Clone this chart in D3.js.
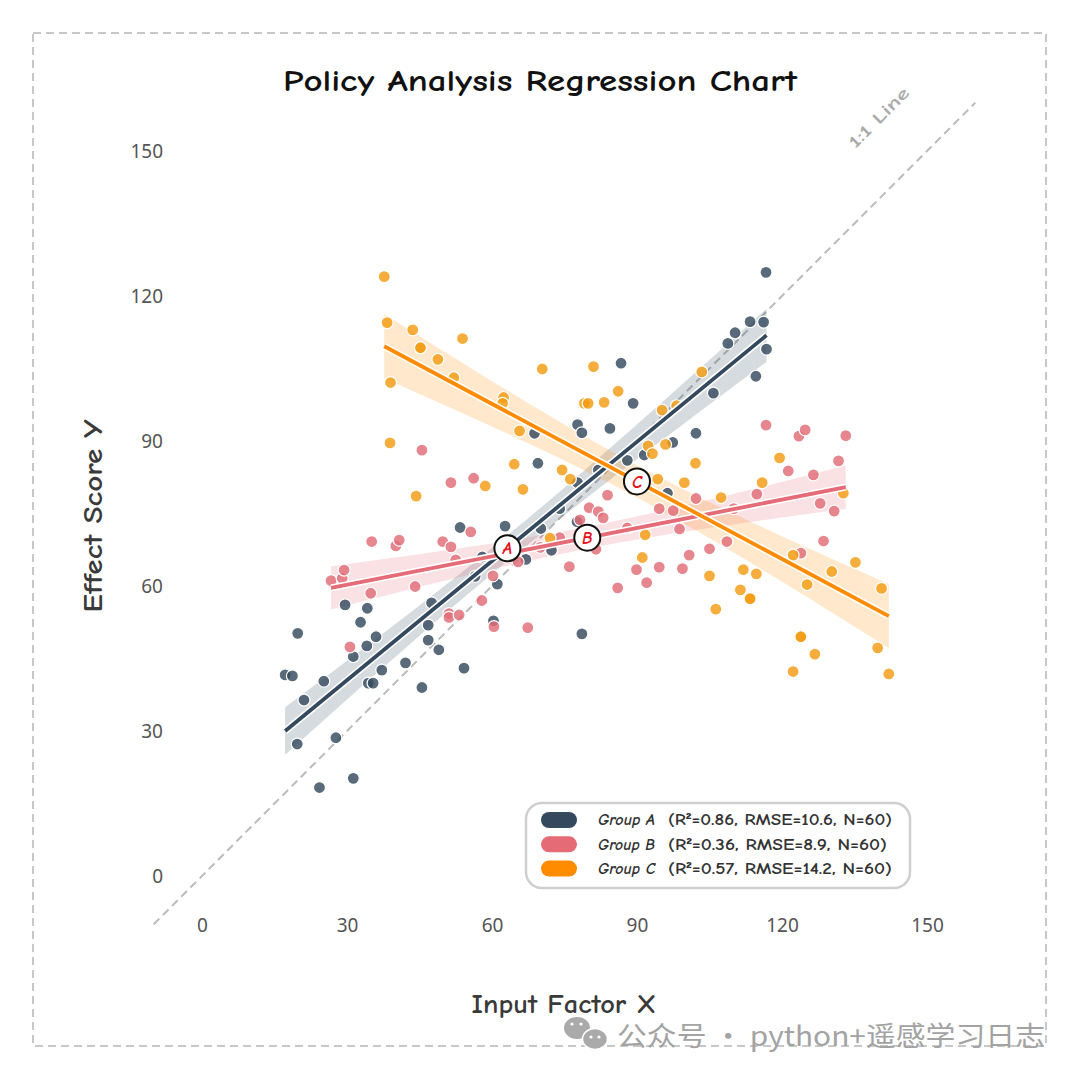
<!DOCTYPE html>
<html>
<head>
<meta charset="utf-8">
<script src="https://cdn.jsdelivr.net/npm/d3@7"></script>
<style>
body { margin: 0; background: #fff; }
svg { display: block; }
</style>
</head>
<body>
<div id="chart"></div>
<script>
// ---- data ----
var groupNames = ["Group A", "Group B", "Group C"];
var groupStats = ["(R\u00b2=0.86, RMSE=10.6, N=60)", "(R\u00b2=0.36, RMSE=8.9, N=60)", "(R\u00b2=0.57, RMSE=14.2, N=60)"];
var statWidths = [224, 219, 224];
var groupLetters = ["A", "B", "C"];
var groupColors = ["#34495e", "#e56b76", "#ff8c00"];
var dotColors = ["#34495e", "#e06c78", "#f39c12"];
var xTicks = [0, 30, 60, 90, 120, 150];
var yTicks = [0, 30, 60, 90, 120, 150];
var identityRange = [-10, 160];

var groupA = [
    [17.2, 41.6], [18.7, 41.4], [19.8, 50.2], [19.7, 27.3], [21.1, 36.4], [24.3, 18.3],
    [25.2, 40.3], [27.7, 28.6], [29.6, 56.1], [31.3, 20.2], [31.3, 45.4], [32.8, 52.5],
    [34.2, 55.4], [34.1, 47.6], [34.4, 39.9], [35.4, 39.9], [36.0, 49.5], [37.2, 42.6],
    [42.1, 44.1], [45.5, 39.0], [46.8, 48.8], [46.8, 51.9], [47.5, 56.5], [49.0, 46.8],
    [53.4, 72.1], [54.2, 43.0], [60.3, 52.8], [61.1, 60.4], [62.7, 72.4], [67.0, 65.5],
    [70.1, 71.9], [72.3, 67.4], [78.6, 50.1], [68.8, 91.6], [69.5, 85.4], [77.7, 93.4],
    [78.6, 91.7], [77.7, 81.4], [84.4, 92.6], [86.7, 106.1], [89.2, 97.8], [91.5, 87.1],
    [96.3, 79.2], [97.4, 89.7], [102.2, 91.6], [105.8, 99.9], [108.8, 110.2], [110.3, 112.4],
    [113.4, 114.7], [114.6, 103.4], [116.2, 114.6], [116.7, 124.9], [116.8, 109.0],
    [77.6, 73.3], [56.5, 62.0], [65.0, 68.0], [74.0, 76.0], [82.0, 84.0], [88.0, 86.0], [58.0, 66.0]
];

var groupB = [
    [26.7, 61.1], [29.0, 61.6], [29.4, 63.3], [30.6, 47.4], [34.9, 58.5], [35.1, 69.2],
    [40.1, 68.3], [40.8, 69.5], [44.1, 59.9], [45.5, 88.1], [49.8, 69.2], [51.5, 81.4],
    [51.5, 68.1], [51.1, 54.3], [51.1, 53.5], [53.2, 54.0], [52.5, 65.4], [56.2, 82.3],
    [55.6, 71.2], [57.9, 57.0], [60.2, 62.1], [60.4, 51.6], [65.4, 65.0], [67.4, 51.4],
    [78.2, 73.7], [80.1, 76.2], [82.0, 75.4], [83.0, 74.1], [83.9, 78.8], [81.5, 67.6],
    [86.0, 59.6], [89.9, 63.4], [92.0, 60.7], [94.6, 63.9], [94.6, 76.0], [97.5, 75.6],
    [98.8, 71.8], [99.4, 63.6], [100.8, 66.4], [102.2, 78.1], [105.0, 67.7], [108.6, 69.2],
    [114.8, 79.0], [116.7, 93.3], [121.3, 83.8], [123.5, 91.0], [124.8, 92.3], [123.9, 66.8],
    [126.5, 83.0], [127.9, 77.1], [128.6, 69.3], [130.8, 75.5], [131.7, 85.9], [133.2, 91.1],
    [70.0, 68.0], [74.0, 70.0], [63.0, 66.0], [88.0, 72.0], [110.0, 76.0], [76.0, 64.0]
];

var groupC = [
    [37.7, 124.0], [38.3, 114.5], [39.0, 102.1], [38.9, 89.6], [43.6, 113.0], [45.2, 109.3],
    [44.3, 78.6], [48.8, 106.9], [52.1, 103.1], [53.9, 111.2], [58.6, 80.7], [62.4, 99.0],
    [62.2, 97.8], [64.6, 85.2], [65.7, 92.1], [66.4, 80.0], [70.4, 104.9], [72.0, 69.9],
    [74.5, 84.0], [76.2, 82.1], [79.1, 97.8], [79.9, 97.8], [81.0, 105.4], [83.2, 98.0],
    [86.1, 100.3], [91.1, 65.9], [91.7, 70.6], [92.3, 89.0], [93.2, 87.4], [94.3, 82.1],
    [95.2, 96.4], [95.9, 89.3], [98.2, 97.3], [99.8, 81.4], [102.1, 85.4], [103.4, 104.3],
    [105.0, 62.1], [106.3, 55.2], [107.4, 78.3], [111.4, 59.2], [112.0, 63.4], [113.4, 57.4],
    [114.7, 62.5], [115.9, 81.4], [119.5, 86.5], [122.3, 66.4], [122.3, 42.3], [123.9, 49.5],
    [125.2, 60.3], [126.8, 45.9], [130.3, 63.0], [132.7, 79.2], [135.2, 64.9], [139.8, 47.2],
    [140.6, 59.5], [142.1, 41.8],
    [45.2, 109.3], [89.0, 80.0], [113.4, 57.4], [123.9, 49.5]
];

var groups = [groupA, groupB, groupC];

// ---- layout ----
var width = 1080, height = 1080;
var fontComic = '"Comic Sans MS", "Comic Neue", "DejaVu Sans", sans-serif';
var fontTick = '"Noto Sans", "Open Sans", sans-serif';

var svg = d3.select("#chart").append("svg")
    .attr("width", width)
    .attr("height", height);

var x = d3.scaleLinear().domain([-10, 160]).range([153.7, 975.3]);
var y = d3.scaleLinear().domain([-10, 160]).range([924.3, 102.7]);

// ordinary least squares with a 95% band, as a regplot would draw
function fitLine(pts) {
    var n = pts.length;
    var xbar = d3.mean(pts, function(d) { return d[0]; });
    var ybar = d3.mean(pts, function(d) { return d[1]; });
    var sxx = d3.sum(pts, function(d) { return (d[0] - xbar) * (d[0] - xbar); });
    var sxy = d3.sum(pts, function(d) { return (d[0] - xbar) * (d[1] - ybar); });
    var slope = sxy / sxx;
    var intercept = ybar - slope * xbar;
    var sse = d3.sum(pts, function(d) { var r = d[1] - (intercept + slope * d[0]); return r * r; });
    var s = Math.sqrt(sse / (n - 2));
    var ext = d3.extent(pts, function(d) { return d[0]; });
    return {
        n: n, xbar: xbar, ybar: ybar, sxx: sxx, slope: slope, intercept: intercept, s: s,
        x0: ext[0], x1: ext[1],
        at: function(v) { return intercept + slope * v; },
        half: function(v) { return 2.0 * s * Math.sqrt(1 / n + (v - xbar) * (v - xbar) / sxx); }
    };
}

var fits = groups.map(fitLine);

// outer dashed frame
svg.append("rect")
    .attr("x", 33).attr("y", 33)
    .attr("width", 1013).attr("height", 1013)
    .attr("fill", "none")
    .attr("stroke", "#c8c8c8")
    .attr("stroke-width", 2)
    .attr("stroke-dasharray", "8,5");

// title
svg.append("text")
    .attr("x", 540).attr("y", 91)
    .attr("text-anchor", "middle")
    .attr("font-family", fontComic)
    .attr("font-weight", "bold")
    .attr("font-size", "31px")
    .attr("fill", "#111")
    .attr("textLength", 514)
    .attr("lengthAdjust", "spacingAndGlyphs")
    .text("Policy Analysis Regression Chart");

// axes (no spines, no tick marks)
var xAxis = d3.axisBottom(x).tickValues(xTicks).tickSize(0).tickPadding(0);
var yAxis = d3.axisLeft(y).tickValues(yTicks).tickSize(0).tickPadding(0);

var xAxisGroup = svg.append("g")
    .attr("transform", "translate(0,918)")
    .call(xAxis);
var yAxisGroup = svg.append("g")
    .attr("transform", "translate(163,0)")
    .call(yAxis);

[xAxisGroup, yAxisGroup].forEach(function(g) {
    g.select(".domain").remove();
    g.selectAll("text")
        .attr("font-family", fontTick)
        .attr("font-size", "19px")
        .attr("fill", "#555");
});

svg.append("text")
    .attr("x", 564).attr("y", 1013)
    .attr("text-anchor", "middle")
    .attr("font-family", fontComic)
    .attr("font-weight", "bold")
    .attr("font-size", "26px")
    .attr("fill", "#3a3a3a")
    .attr("textLength", 185)
    .attr("lengthAdjust", "spacingAndGlyphs")
    .text("Input Factor X");

svg.append("text")
    .attr("transform", "translate(102,516) rotate(-90)")
    .attr("text-anchor", "middle")
    .attr("font-family", fontComic)
    .attr("font-weight", "bold")
    .attr("font-size", "26px")
    .attr("fill", "#3a3a3a")
    .attr("textLength", 193)
    .attr("lengthAdjust", "spacingAndGlyphs")
    .text("Effect Score Y");

// 1:1 reference line
svg.append("line")
    .attr("x1", x(identityRange[0])).attr("y1", y(identityRange[0]))
    .attr("x2", x(identityRange[1])).attr("y2", y(identityRange[1]))
    .attr("stroke", "#bbb")
    .attr("stroke-width", 2)
    .attr("stroke-dasharray", "8,5");

svg.append("text")
    .attr("transform", "translate(" + x(140) + "," + y(157) + ") rotate(-45)")
    .attr("text-anchor", "middle")
    .attr("dy", "0.35em")
    .attr("font-family", fontComic)
    .attr("font-weight", "bold")
    .attr("font-size", "17px")
    .attr("fill", "#aaa")
    .attr("textLength", 78)
    .attr("lengthAdjust", "spacingAndGlyphs")
    .text("1:1 Line");

// confidence bands
var band = d3.area()
    .x(function(d) { return x(d.v); })
    .y0(function(d) { return y(d.lo); })
    .y1(function(d) { return y(d.hi); });

var gBands = svg.append("g");
fits.forEach(function(f, i) {
    var samples = d3.range(0, 41).map(function(k) {
        var v = f.x0 + (f.x1 - f.x0) * k / 40;
        return { v: v, lo: f.at(v) - f.half(v), hi: f.at(v) + f.half(v) };
    });
    gBands.append("path")
        .attr("d", band(samples))
        .attr("fill", groupColors[i])
        .attr("fill-opacity", 0.2);
});

// scatter points
var gDots = svg.append("g");
groups.forEach(function(pts, i) {
    gDots.selectAll(".dot" + i)
        .data(pts)
        .enter().append("circle")
        .attr("class", "dot" + i)
        .attr("cx", function(d) { return x(d[0]); })
        .attr("cy", function(d) { return y(d[1]); })
        .attr("r", 6)
        .attr("fill", dotColors[i])
        .attr("fill-opacity", 0.82)
        .attr("stroke", "#fff")
        .attr("stroke-width", 1.2);
});

// fitted lines with a white halo
var gLines = svg.append("g");
fits.forEach(function(f, i) {
    gLines.append("line")
        .attr("x1", x(f.x0)).attr("y1", y(f.at(f.x0)))
        .attr("x2", x(f.x1)).attr("y2", y(f.at(f.x1)))
        .attr("stroke", "#fff")
        .attr("stroke-width", 7);
    gLines.append("line")
        .attr("x1", x(f.x0)).attr("y1", y(f.at(f.x0)))
        .attr("x2", x(f.x1)).attr("y2", y(f.at(f.x1)))
        .attr("stroke", groupColors[i])
        .attr("stroke-width", 3.8);
});

// letter markers at each group centroid
var gMarks = svg.append("g");
fits.forEach(function(f, i) {
    var cx = x(f.xbar), cy = y(f.ybar);
    gMarks.append("circle")
        .attr("cx", cx).attr("cy", cy)
        .attr("r", 13)
        .attr("fill", "#fff")
        .attr("stroke", "#111")
        .attr("stroke-width", 2);
    gMarks.append("text")
        .attr("x", cx).attr("y", cy)
        .attr("dy", "0.36em")
        .attr("text-anchor", "middle")
        .attr("font-family", fontComic)
        .attr("font-weight", "bold")
        .attr("font-style", "italic")
        .attr("font-size", "17px")
        .attr("fill", "#e8101a")
        .text(groupLetters[i]);
});

// legend
var legend = svg.append("g");
legend.append("rect")
    .attr("x", 526).attr("y", 803)
    .attr("width", 384).attr("height", 85)
    .attr("rx", 16)
    .attr("fill", "#fff")
    .attr("fill-opacity", 0.9)
    .attr("stroke", "#cfcfcf")
    .attr("stroke-width", 2.5);

groupNames.forEach(function(name, i) {
    var cy = 820 + i * 24.3;
    legend.append("rect")
        .attr("x", 541).attr("y", cy - 8)
        .attr("width", 36).attr("height", 16)
        .attr("rx", 8)
        .attr("fill", groupColors[i]);
    legend.append("text")
        .attr("x", 598).attr("y", cy)
        .attr("dy", "0.35em")
        .attr("font-family", fontComic)
        .attr("font-weight", "bold")
        .attr("font-style", "italic")
        .attr("font-size", "15px")
        .attr("fill", "#333")
        .attr("textLength", 57)
        .attr("lengthAdjust", "spacingAndGlyphs")
        .text(name);
    legend.append("text")
        .attr("x", 668).attr("y", cy)
        .attr("dy", "0.35em")
        .attr("font-family", fontComic)
        .attr("font-weight", "bold")
        .attr("font-size", "15px")
        .attr("fill", "#333")
        .attr("textLength", statWidths[i])
        .attr("lengthAdjust", "spacingAndGlyphs")
        .text(groupStats[i]);
});

// watermark
var wm = svg.append("g");
wm.append("ellipse").attr("cx", 577).attr("cy", 1028).attr("rx", 13).attr("ry", 11).attr("fill", "#aaa");
wm.append("ellipse").attr("cx", 595).attr("cy", 1039).attr("rx", 12.5).attr("ry", 10.5)
    .attr("fill", "#aaa").attr("stroke", "#fff").attr("stroke-width", 1.5);
[[572, 1024], [581, 1024], [591, 1037], [599, 1037]].forEach(function(p) {
    wm.append("circle").attr("cx", p[0]).attr("cy", p[1]).attr("r", 1.6).attr("fill", "#fff");
});
wm.append("text")
    .attr("x", 617).attr("y", 1046)
    .attr("font-family", '"Noto Sans CJK SC", "Noto Sans", sans-serif')
    .attr("font-size", "27px")
    .attr("fill", "#a3a3a3")
    .attr("textLength", 428)
    .attr("lengthAdjust", "spacingAndGlyphs")
    .text("公众号 · python+遥感学习日志");
</script>
</body>
</html>
